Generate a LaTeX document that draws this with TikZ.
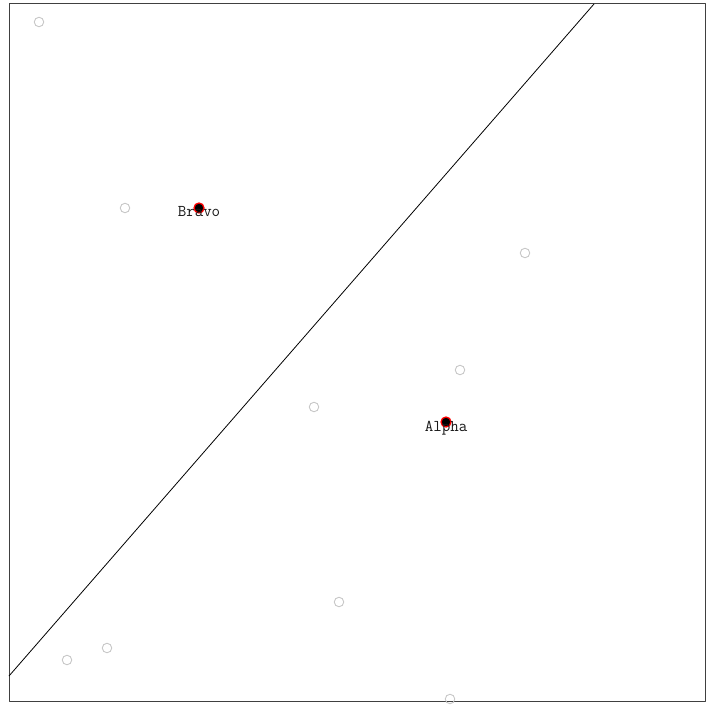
\documentclass[tikz,border=0pt]{standalone}
\begin{document}
\begin{tikzpicture}[x=1pt, y=-1pt, line join=round]
    \tikzset{
      sample/.style={circle, draw=black!22, line width=0.9pt, inner sep=0pt, minimum size=9.5pt},
      centroid/.style={circle, draw=red, fill=black, line width=1.3pt, inner sep=0pt, minimum size=10pt},
      tag/.style={font=\ttfamily\fontsize{16.5}{17}\selectfont, text=black!90, inner sep=0pt}
    }
    \useasboundingbox (0,0) rectangle (707,708);

    % Moldura do gráfico
    \draw[line width=1pt, black!75] (9,4) rectangle (705,701);

    % Pontos de amostra (cinza, vazados)
    \foreach \px/\py [count=\i] in {39/22, 125/208, 525/253, 460/370, 314/407,
                                   339/602, 107/648, 67/660, 450/699} {
      \node[sample] (s\i) at (\px, \py) {};
    }

    % Reta de separação entre as duas regiões
    \coordinate (lo) at (9, 676);
    \coordinate (hi) at (594, 4);
    \draw[line width=0.8pt] (lo) -- (hi);

    % Centros das classes
    \node[centroid] (bravo) at (199, 208) {};
    \node[centroid] (alpha) at (446, 422) {};

    % Rótulos dos centros
    \node[tag, anchor=base] (bravolbl) at (199, 217) {Bravo};
    \node[tag, anchor=base] (alphalbl) at (446, 431) {Alpha};
  \end{tikzpicture}
\end{document}
